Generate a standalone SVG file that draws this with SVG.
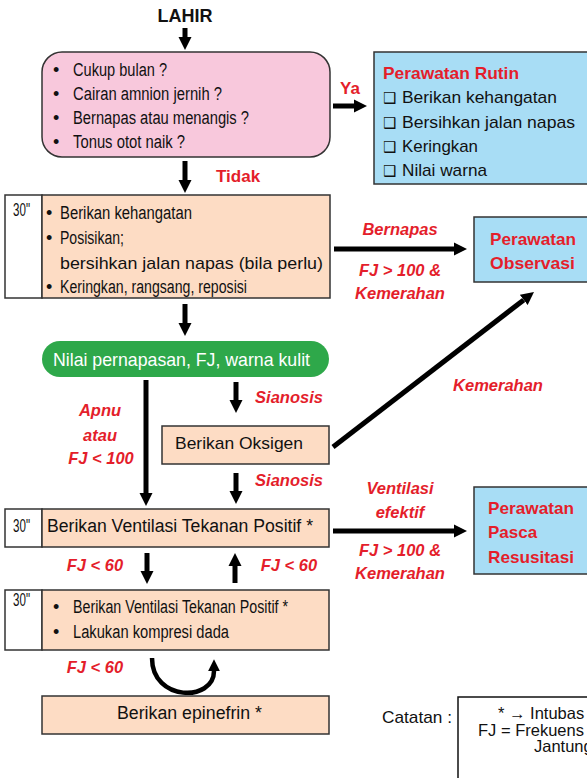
<svg xmlns="http://www.w3.org/2000/svg" width="587" height="778" viewBox="0 0 587 778">
<defs>
<marker id="ah" viewBox="0 0 10 10" refX="0" refY="5" markerWidth="2.6" markerHeight="3" orient="auto" markerUnits="strokeWidth">
<path d="M0,0 L10,5 L0,10 z" fill="#000"/>
</marker>
<style>
.box{stroke:#333;stroke-width:1.5}
.pink{fill:#f8c8dc}
.peach{fill:#fddcc4}
.blue{fill:#a8ddf5}
.white{fill:#fff}
.t{font-family:"Liberation Sans",Arial,sans-serif;font-size:17px;fill:#111}
.n{font-family:"Liberation Sans",Arial,sans-serif;font-size:18px;fill:#111}
.m{font-family:"Liberation Sans",Arial,sans-serif;font-size:16.5px;fill:#111}
.r{font-family:"Liberation Sans",Arial,sans-serif;font-size:16.5px;font-weight:bold;font-style:italic;fill:#e41e2b;text-anchor:middle}
.rb{font-family:"Liberation Sans",Arial,sans-serif;font-size:17px;font-weight:bold;fill:#e41e2b}
.cb{font-family:"DejaVu Sans",sans-serif;font-size:15px;font-weight:bold;fill:#111}
.arr{stroke:#000;stroke-width:5;fill:none;marker-end:url(#ah)}
</style>
</defs>

<text x="185" y="22" font-family="Liberation Sans,Arial,sans-serif" font-size="18" font-weight="bold" text-anchor="middle" fill="#111">LAHIR</text>

<g id="n-check">
<rect class="box pink" x="42" y="52" width="288" height="105" rx="20"/>
<text class="n" x="53" y="76">•</text><text class="n" x="73" y="76" textLength="94" lengthAdjust="spacingAndGlyphs">Cukup bulan ?</text>
<text class="n" x="53" y="100">•</text><text class="n" x="73" y="100" textLength="149" lengthAdjust="spacingAndGlyphs">Cairan amnion jernih ?</text>
<text class="n" x="53" y="124">•</text><text class="n" x="73" y="124" textLength="176" lengthAdjust="spacingAndGlyphs">Bernapas atau menangis ?</text>
<text class="n" x="53" y="148">•</text><text class="n" x="73" y="148" textLength="112" lengthAdjust="spacingAndGlyphs">Tonus otot naik ?</text>
</g>

<g id="n-rutin">
<rect class="box blue" x="374" y="52" width="214" height="132"/>
<text class="rb" x="383" y="79" textLength="136" lengthAdjust="spacingAndGlyphs">Perawatan Rutin</text>
<text class="cb" x="383" y="103">❑</text><text class="t" x="402" y="103" textLength="155" lengthAdjust="spacingAndGlyphs">Berikan kehangatan</text>
<text class="cb" x="383" y="128">❑</text><text class="t" x="402" y="128" textLength="173" lengthAdjust="spacingAndGlyphs">Bersihkan jalan napas</text>
<text class="cb" x="383" y="152">❑</text><text class="t" x="402" y="152" textLength="76" lengthAdjust="spacingAndGlyphs">Keringkan</text>
<text class="cb" x="383" y="176">❑</text><text class="t" x="402" y="176" textLength="85" lengthAdjust="spacingAndGlyphs">Nilai warna</text>
</g>

<g id="n-step1">
<rect class="box white" x="5" y="195" width="37" height="103"/>
<rect class="box peach" x="42" y="195" width="288" height="103"/>
<text class="n" x="13" y="216" textLength="17" lengthAdjust="spacingAndGlyphs">30"</text>
<text class="n" x="46" y="219">•</text><text class="n" x="60" y="219" textLength="132" lengthAdjust="spacingAndGlyphs">Berikan kehangatan</text>
<text class="n" x="46" y="244">•</text><text class="n" x="60" y="244" textLength="64" lengthAdjust="spacingAndGlyphs">Posisikan;</text>
<text class="t" x="60" y="269" textLength="263" lengthAdjust="spacingAndGlyphs">bersihkan jalan napas (bila perlu)</text>
<text class="n" x="46" y="293">•</text><text class="n" x="60" y="293" textLength="187" lengthAdjust="spacingAndGlyphs">Keringkan, rangsang, reposisi</text>
</g>

<g id="n-observasi">
<rect class="box blue" x="474" y="217" width="114" height="65"/>
<text class="rb" x="490" y="245" textLength="86" lengthAdjust="spacingAndGlyphs">Perawatan</text>
<text class="rb" x="490" y="269" textLength="85" lengthAdjust="spacingAndGlyphs">Observasi</text>
</g>

<g id="n-nilai">
<rect x="42" y="341" width="287" height="36" rx="18" fill="#2ea84a"/>
<text x="53" y="366" font-family="Liberation Sans,Arial,sans-serif" font-size="18.5" fill="#fff" textLength="257" lengthAdjust="spacingAndGlyphs">Nilai pernapasan, FJ, warna kulit</text>
</g>

<g id="n-oksigen">
<rect class="box peach" x="162" y="426" width="167" height="38"/>
<text class="t" x="175" y="449" textLength="128" lengthAdjust="spacingAndGlyphs">Berikan Oksigen</text>
</g>

<g id="n-vtp">
<rect class="box white" x="5" y="509" width="37" height="38"/>
<rect class="box peach" x="42" y="509" width="287" height="38"/>
<text class="n" x="13" y="532" textLength="17" lengthAdjust="spacingAndGlyphs">30"</text>
<text class="n" x="47" y="532" textLength="266" lengthAdjust="spacingAndGlyphs">Berikan Ventilasi Tekanan Positif *</text>
</g>

<g id="n-pasca">
<rect class="box blue" x="474" y="487" width="114" height="87"/>
<text class="rb" x="488" y="514" textLength="86" lengthAdjust="spacingAndGlyphs">Perawatan</text>
<text class="rb" x="488" y="538">Pasca</text>
<text class="rb" x="488" y="563" textLength="86" lengthAdjust="spacingAndGlyphs">Resusitasi</text>
</g>

<g id="n-kompresi">
<rect class="box white" x="5" y="590" width="37" height="60"/>
<rect class="box peach" x="42" y="590" width="287" height="60"/>
<text class="n" x="13" y="606" textLength="17" lengthAdjust="spacingAndGlyphs">30"</text>
<text class="n" x="53" y="613">•</text><text class="n" x="73" y="613" textLength="215" lengthAdjust="spacingAndGlyphs">Berikan Ventilasi Tekanan Positif *</text>
<text class="n" x="53" y="638">•</text><text class="n" x="73" y="638" textLength="156" lengthAdjust="spacingAndGlyphs">Lakukan kompresi dada</text>
</g>

<g id="n-epinefrin">
<rect class="box peach" x="42" y="696" width="287" height="38"/>
<text class="n" x="117" y="719" textLength="145" lengthAdjust="spacingAndGlyphs">Berikan epinefrin *</text>
</g>

<g id="n-catatan">
<text class="t" x="382" y="723" textLength="70" lengthAdjust="spacingAndGlyphs">Catatan :</text>
<rect x="458" y="697" width="150" height="100" fill="#fff" stroke="#111" stroke-width="1.5"/>
<text class="m" x="498" y="719">* → Intubas</text>
<text class="m" x="478" y="736">FJ = Frekuens</text>
<text class="m" x="534" y="752">Jantung</text>
</g>

<g id="connectors">
<line class="arr" x1="185" y1="28" x2="185" y2="37"/>
<line class="arr" x1="333" y1="106" x2="354" y2="106"/>
<line class="arr" x1="185" y1="161" x2="185" y2="180"/>
<line class="arr" x1="334" y1="249" x2="454" y2="249"/>
<line class="arr" x1="185" y1="304" x2="185" y2="323"/>
<line class="arr" x1="146" y1="380" x2="146" y2="493"/>
<line class="arr" x1="236" y1="382" x2="236" y2="400"/>
<line class="arr" x1="333" y1="447" x2="523.7" y2="299.9"/>
<line class="arr" x1="236" y1="473" x2="236" y2="491"/>
<line class="arr" x1="333" y1="531" x2="454" y2="531"/>
<line class="arr" x1="147" y1="553" x2="147" y2="571"/>
<line class="arr" x1="235" y1="583" x2="235" y2="566"/>
<path d="M152,658 C152,702 214,702 214,671" stroke="#000" stroke-width="4.5" fill="none" marker-end="url(#ah)"/>
</g>

<g id="labels">
<text class="rb" x="340" y="94">Ya</text>
<text class="rb" x="216" y="182">Tidak</text>
<text class="r" x="400" y="235">Bernapas</text>
<text class="r" x="400" y="276">FJ &gt; 100 &amp;</text>
<text class="r" x="400" y="299">Kemerahan</text>
<text class="r" x="289" y="403">Sianosis</text>
<text class="r" x="289" y="486">Sianosis</text>
<text class="r" x="100" y="416">Apnu</text>
<text class="r" x="100" y="441">atau</text>
<text class="r" x="101" y="464">FJ &lt; 100</text>
<text class="r" x="498" y="391">Kemerahan</text>
<text class="r" x="400" y="494">Ventilasi</text>
<text class="r" x="400" y="518">efektif</text>
<text class="r" x="400" y="556">FJ &gt; 100 &amp;</text>
<text class="r" x="400" y="579">Kemerahan</text>
<text class="r" x="95" y="571">FJ &lt; 60</text>
<text class="r" x="289" y="571">FJ &lt; 60</text>
<text class="r" x="95" y="673">FJ &lt; 60</text>
</g>
</svg>
